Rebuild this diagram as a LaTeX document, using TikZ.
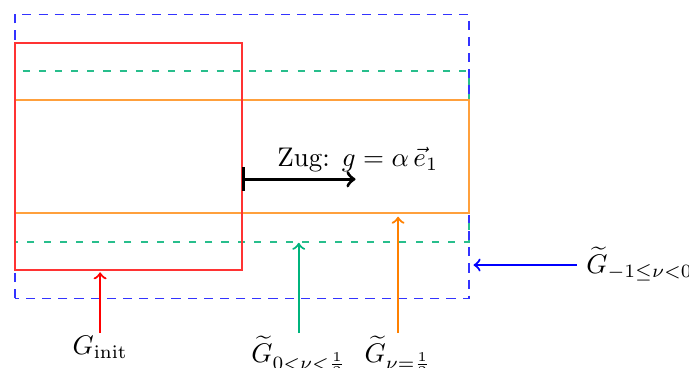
\documentclass[tikz,border=0pt]{standalone}
\usepackage{amsmath}
\usetikzlibrary{arrows}

\definecolor{gruen}{RGB}{0,180,125}
\definecolor{hellorange}{RGB}{255,160,60}
\definecolor{hellgruen}{RGB}{40,190,140}

\begin{document}
\begin{tikzpicture}[x=1.48cm,y=1.48cm,
    zeiger/.style={->,thick},
    label/.style={anchor=north,inner ysep=1pt}]
  \useasboundingbox (-0.132,-1.855) rectangle (5.938,1.379);

  % Gebiete
  \draw[blue!80,dash pattern=on 3.4pt off 2.6pt] (0,-1.25) rectangle (4,1.25);
  \draw[hellgruen,line width=0.7pt,dash pattern=on 2.6pt off 3.4pt] (0,-0.75) rectangle (4,0.75);
  \draw[hellorange,line width=0.7pt] (0,-0.5) rectangle (4,0.5);
  \draw[red!80] (0,-1) rectangle (2,1);

  % Zug
  \coordinate (Z0) at (2,-0.2);
  \coordinate (Z1) at (3,-0.2);
  \draw[|->,very thick] (Z0) -- (Z1);
  \node (Zug) at (3.02,-0.03) {Zug: $g = \alpha\,\vec{e}_1$};

  % Beschriftungen
  \node[label] (N0) at (0.75,-1.555) {$G_{\mathrm{init}}$};
  \node[label] (N1) at (2.5,-1.555) {$\widetilde{G}_{0<\nu<\frac{1}{2}}$};
  \node[label] (N2) at (3.375,-1.555) {$\widetilde{G}_{\nu=\frac{1}{2}}$};
  \node[anchor=west] (N3) at (4.95,-0.95) {$\widetilde{G}_{-1\leq\nu<0}$};

  \coordinate (E0) at (0.75,-1.02);
  \coordinate (E1) at (2.5,-0.76);
  \coordinate (E2) at (3.375,-0.53);
  \coordinate (E3) at (4.04,-0.956);

  \draw[zeiger,red] (N0.north) -- (E0);
  \draw[zeiger,gruen] (N1.north) -- (E1);
  \draw[zeiger,orange] (N2.north) -- (E2);
  \draw[zeiger,blue] (4.95,-0.956) -- (E3);
\end{tikzpicture}
\end{document}
